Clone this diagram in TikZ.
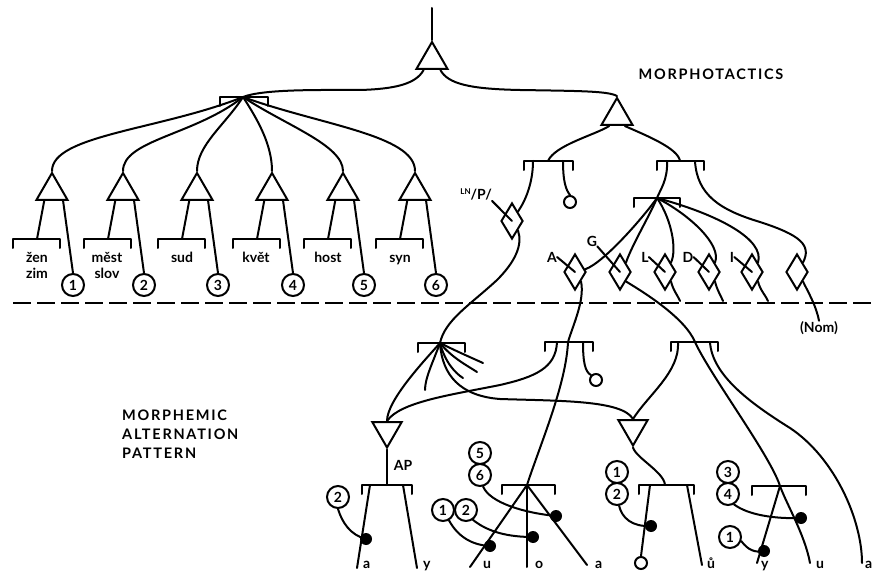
\documentclass[tikz,border=0pt]{standalone}
\usepackage{fontspec}
\setmainfont{Lato}
\newfontfamily\spacedfont[LetterSpace=12]{Lato}
\usetikzlibrary{shapes.geometric}

% bracket: junction name, left x, right x, bar y, junction x
\newcommand{\strbracket}[5]{%
  \draw[strat] (#2,#4+9) -- (#2,#4) -- (#3,#4) -- (#3,#4+9);
  \coordinate (#1) at (#5,#4);
}

\tikzset{
  strat/.style={line width=2pt, line cap=round, line join=round},
  up tri/.style={regular polygon, regular polygon sides=3, draw, line width=2pt, inner sep=0pt, minimum size=36pt},
  down tri/.style={up tri, shape border rotate=180, minimum size=34pt},
  diam/.style={diamond, draw, line width=2pt, inner sep=0pt, minimum width=22pt, minimum height=36pt},
  num/.style={circle, draw, fill=white, line width=2pt, inner sep=0pt, minimum size=22pt, font=\bfseries\fontsize{14}{14}\selectfont},
  dot/.style={circle, fill, inner sep=0pt, minimum size=12pt},
  zero/.style={circle, draw, line width=2pt, inner sep=0pt, minimum size=12pt},
  lab/.style={font=\bfseries\fontsize{14}{16}\selectfont, inner sep=0pt},
  caps/.style={font=\spacedfont\bfseries\fontsize{14.5}{19}\selectfont, inner sep=0pt, align=left},
}

\begin{document}
\begin{tikzpicture}[x=1pt, y=-1pt]
\useasboundingbox (0,0) rectangle (873,572);

% Headings
\node[caps, anchor=base] (morpho) at (711,80) {MORPHOTACTICS};
\node[caps, anchor=north west] (altern) at (122,410) {MORPHEMIC\\ALTERNATION\\PATTERN};

% Stratal boundary
\coordinate (dl) at (13,303);
\coordinate (dr) at (873,303);
\draw[strat, line cap=butt, dash pattern=on 18pt off 6pt] (dl) -- (dr);

% Top of the network
\coordinate (top) at (432,8);
\node[up tri] (t0) at (432,60) {};
\draw[strat] (top) -- (t0.corner 1);

% Stems
\strbracket{k}{220}{268}{97}{243}
\draw[strat] (t0.-130) .. controls (416,84) and (395,89) .. (360,90) .. controls (320,90) and (263,89) .. (k);

\foreach \i/\ax/\cax/\cay/\cby in {1/52/160/130/135, 2/123/195/135/140, 3/197/225/125/145,
                                    4/272/258/120/145, 5/343/285/125/145, 6/415/320/125/135} {
  \node[up tri] (t\i) at (\ax,191) {};
  \draw[strat] (k) .. controls (\cax,\cay) and (\ax,\cby) .. (t\i.corner 1);
  \strbracket{b\i}{\ax-39}{\ax+8}{239}{\ax-15}
  \draw[strat] (t\i.-128) -- (b\i);
  \node[num] (c\i) at (\ax+21,285) {\i};
  \draw[strat] (t\i.-42) -- (c\i.north);
}

\node[lab, anchor=base] (w1) at (37,262) {žen};
\node[lab, anchor=base] (w1b) at (37,279) {zim};
\node[lab, anchor=base] (w2) at (107,262) {měst};
\node[lab, anchor=base] (w2b) at (107,279) {slov};
\node[lab, anchor=base] (w3) at (182,262) {sud};
\node[lab, anchor=base] (w4) at (256,262) {květ};
\node[lab, anchor=base] (w5) at (328,262) {host};
\node[lab, anchor=base] (w6) at (400,262) {syn};

% Suffixes
\node[up tri] (tp) at (617,116) {};
\draw[strat] (t0.-50) .. controls (448,84) and (470,89) .. (520,90) .. controls (580,91) and (608,91) .. (tp.corner 1);

\strbracket{ba}{524}{573}{161}{548}
\strbracket{bb}{657}{704}{161}{680}
\coordinate (ba1) at (533,161);
\coordinate (ba2) at (563,161);
\coordinate (bb1) at (667,161);
\coordinate (bb2) at (695,161);
\draw[strat] (tp.-128) .. controls (595,135) and (555,145) .. (ba);
\draw[strat] (tp.-52) .. controls (645,135) and (678,148) .. (bb);

\node[diam] (dp) at (512,221) {};
\node[lab, anchor=base east] (lp) at (492,200) {{\fontsize{8}{8}\selectfont\raisebox{5pt}{LN}}/P/};
\draw[strat] (lp.south east) -- (dp.center);
\draw[strat] (ba1) .. controls (533,182) and (526,200) .. (dp.north east);
\node[zero] (za) at (570,202) {};
\draw[strat] (ba2) .. controls (563,182) and (566,190) .. (za.north);

\strbracket{bc}{634}{680}{198}{657}
\draw[strat] (bb1) .. controls (668,180) and (660,190) .. (bc);

% Case diamonds
\node[diam] (dA) at (575,272) {};
\node[diam] (dG) at (620,272) {};
\node[diam] (dL) at (665,272) {};
\node[diam] (dD) at (709,272) {};
\node[diam] (dI) at (752,272) {};
\node[diam] (dN) at (797,272) {};

\node[lab] (lA) at (552,257) {A};
\node[lab] (lG) at (592,241) {G};
\node[lab] (lL) at (645,257) {L};
\node[lab] (lD) at (688,257) {D};
\node[lab] (lI) at (732,257) {I};
\draw[strat] (lA.east) -- (dA.center);
\draw[strat] (lG.south east) -- (dG.center);
\draw[strat] (lL.east) -- (dL.center);
\draw[strat] (lD.east) -- (dD.center);
\draw[strat] (lI.east) -- (dI.center);

\draw[strat] (bc) .. controls (645,215) and (605,262) .. (dA.15);
\draw[strat] (bc) .. controls (650,215) and (632,245) .. (dG.north east);
\draw[strat] (bc) .. controls (672,220) and (677,250) .. (dL.north east);
\draw[strat] (bc) .. controls (690,215) and (722,245) .. (dD.north east);
\draw[strat] (bc) .. controls (720,215) and (765,240) .. (dI.north east);
\draw[strat] (bb2) .. controls (697,195) and (720,210) .. (760,222) .. controls (800,235) and (812,245) .. (dN.north east);

\coordinate (eL) at (680,301);
\coordinate (eD) at (723,301);
\coordinate (eI) at (768,301);
\draw[strat] (dL.south east) .. controls (673,290) and (678,296) .. (eL);
\draw[strat] (dD.south east) .. controls (717,290) and (721,296) .. (eD);
\draw[strat] (dI.south east) .. controls (760,290) and (766,296) .. (eI);
\node[lab, anchor=base] (nom) at (819,332) {(Nom)};
\draw[strat] (dN.south east) .. controls (808,292) and (816,305) .. (nom.north);

% Alternation brackets
\strbracket{bd}{418}{465}{343}{440}
\strbracket{be}{545}{593}{342}{568}
\strbracket{bf}{671}{718}{342}{695}
\coordinate (be1) at (557,342);
\coordinate (be2) at (583,342);
\coordinate (bf1) at (678,342);
\coordinate (bf2) at (710,342);

\draw[strat] (dp.south east) .. controls (523,245) and (515,262) .. (497,280) .. controls (470,305) and (445,320) .. (bd);

\node[down tri] (tap) at (387,430.5) {};
\node[down tri] (tr) at (633,428.5) {};

\coordinate (s1) at (425,390);
\coordinate (s2) at (463,378);
\coordinate (s3) at (477,372);
\coordinate (s4) at (483,363);
\draw[strat] (bd) .. controls (425,360) and (387,400) .. (tap.north);
\draw[strat] (bd) .. controls (433,362) and (425,378) .. (s1);
\draw[strat] (bd) .. controls (445,362) and (455,373) .. (s2);
\draw[strat] (bd) .. controls (452,358) and (468,366) .. (s3);
\draw[strat] (bd) .. controls (458,352) and (472,358) .. (s4);
\draw[strat] (bd) .. controls (442,375) and (460,396) .. (500,399) .. controls (560,401) and (622,400) .. (tr.north);

\draw[strat] (be1) .. controls (556,368) and (535,377) .. (500,385) .. controls (450,395) and (400,402) .. (tap.north);
\node[zero] (ze) at (596,380) {};
\draw[strat] (be2) .. controls (583,362) and (585,372) .. (ze.north west);

\draw[strat] (bf1) .. controls (680,372) and (648,395) .. (tr.north);
\coordinate (ja) at (862,563);
\draw[strat] (bf2) .. controls (712,375) and (750,403) .. (790,428) .. controls (835,458) and (862,520) .. (ja);

% Realizations
\strbracket{bg}{362}{412}{485}{387}
\strbracket{bh}{502}{555}{485}{527}
\strbracket{bi}{639}{694}{485}{665}
\strbracket{bj}{752}{806}{486}{780}

% AP
\draw[strat] (tap.south) -- (bg);
\node[lab] (ap) at (403,465) {AP};
\coordinate (bg1) at (370,485);
\coordinate (bg2) at (403,485);
\coordinate (ga) at (357,568);
\coordinate (gy) at (417,568);
\draw[strat] (bg1) -- (ga);
\draw[strat] (bg2) -- (gy);
\node[num] (g2) at (338,497) {2};
\draw[strat] (g2.south) .. controls (342,522) and (350,535) .. (366,539) node[dot] (dg) {};

% A line through both brackets
\coordinate (hu) at (470,567);
\coordinate (ho) at (527,567);
\coordinate (ha) at (587,565);
\draw[strat] (dA.south east) .. controls (585,300) and (573,325) .. (be) .. controls (566,385) and (540,445) .. (bh) -- (hu);
\draw[strat] (bh) -- (ho);
\draw[strat] (bh) -- (ha);
\node[num] (h5) at (480,453) {5};
\node[num] (h6) at (480,475) {6};
\node[num] (h1) at (443,510) {1};
\node[num] (h2) at (466,510) {2};
\draw[strat] (h6.-75) .. controls (490,503) and (525,513) .. (556,516) node[dot] (da) {};
\draw[strat] (h2.-55) .. controls (488,532) and (508,537) .. (533,537) node[dot] (do) {};
\draw[strat] (h1.-60) .. controls (457,535) and (470,545) .. (490,546) node[dot] (du) {};

% G line through both brackets
\coordinate (ju) at (810,563);
\coordinate (jy) at (757,563);
\draw[strat] (dG.south east) .. controls (645,293) and (685,318) .. (bf) .. controls (710,375) and (770,455) .. (bj) .. controls (786,503) and (805,535) .. (ju);
\draw[strat] (bj) -- (jy);

\draw[strat] (tr.south) .. controls (636,458) and (664,472) .. (bi);
\coordinate (bi1) at (650,485);
\coordinate (bi2) at (687,485);
\coordinate (iu) at (702,565);
\node[zero] (zi) at (641,563) {};
\draw[strat] (bi1) -- (zi.north);
\draw[strat] (bi2) -- (iu);
\node[num] (i1) at (617,472) {1};
\node[num] (i2) at (617,494) {2};
\draw[strat] (i2.-80) .. controls (622,518) and (632,527) .. (651,526) node[dot] (di) {};

\node[num] (j3) at (728,472) {3};
\node[num] (j4) at (728,494) {4};
\node[num] (j1) at (730,537) {1};
\draw[strat] (j4.-60) .. controls (748,515) and (775,519) .. (801,518) node[dot] (dj1) {};
\draw[strat] (j1.-20) .. controls (748,550) and (755,553) .. (764,551) node[dot] (dj2) {};

% Phonemic forms
\node[lab, anchor=base west] (f1) at (363,568) {a};
\node[lab, anchor=base west] (f2) at (423,568) {y};
\node[lab, anchor=base west] (f3) at (483,568) {u};
\node[lab, anchor=base west] (f4) at (535,568) {o};
\node[lab, anchor=base west] (f5) at (595,568) {a};
\node[lab, anchor=base west] (f6) at (707,568) {ů};
\node[lab, anchor=base west] (f7) at (761,568) {y};
\node[lab, anchor=base west] (f8) at (816,568) {u};
\node[lab, anchor=base west] (f9) at (865,568) {a};
\end{tikzpicture}
\end{document}
